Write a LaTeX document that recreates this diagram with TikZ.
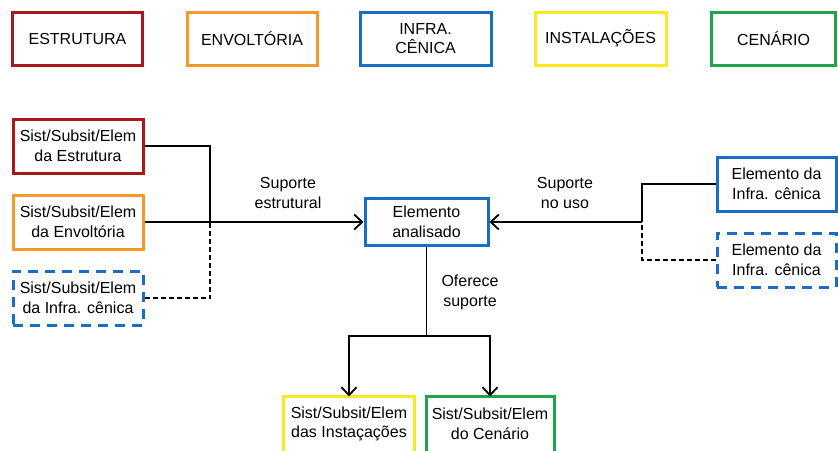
\documentclass[tikz,border=0pt]{standalone}
\usepackage{fontspec}
\setmainfont{Liberation Sans}
\usetikzlibrary{arrows.meta}
\definecolor{cEst}{RGB}{168,22,30}
\definecolor{cEnv}{RGB}{243,154,43}
\definecolor{cInf}{RGB}{24,110,196}
\definecolor{cIns}{RGB}{248,234,30}
\definecolor{cCen}{RGB}{30,164,74}
\begin{document}
\begin{tikzpicture}[x=1pt,y=-1pt,
  box/.style={draw, line width=3pt, inner sep=0pt, align=center,
    font=\fontsize{16}{19.5}\selectfont},
  dbox/.style={box, dash pattern=on 10pt off 7pt},
  frame/.style={line width=3pt},
  conn/.style={line width=1.8pt, draw=black},
  arr/.style={conn, -{Straight Barb[length=8pt,width=15pt,line width=1.8pt]}},
  dconn/.style={conn, dash pattern=on 5pt off 3pt},
  lbl/.style={align=center, inner sep=0pt, font=\fontsize{16}{20}\selectfont}]
\useasboundingbox (0,0) rectangle (838,450);

% legend row
\node[box, draw=cEst, minimum width=130pt, minimum height=53pt] (kEst) at (77.5,38.5) {ESTRUTURA};
\node[box, draw=cEnv, minimum width=130pt, minimum height=53pt] (kEnv) at (252,38.5) {ENVOLTÓRIA};
\node[box, draw=cInf, minimum width=131pt, minimum height=53pt] (kInf) at (425.5,38.5) {INFRA.\\CÊNICA};
\node[box, draw=cIns, minimum width=131pt, minimum height=53pt] (kIns) at (600.5,38.5) {INSTALAÇÕES};
\node[box, draw=cCen, minimum width=124pt, minimum height=53pt] (kCen) at (773.5,38.5) {CENÁRIO};

% left column
\node[box, draw=cEst, minimum width=130pt, minimum height=54pt] (L1) at (78,146) {Sist/Subsit/Elem\\da Estrutura};
\node[box, draw=cEnv, minimum width=130pt, minimum height=54pt] (L2) at (78,222) {Sist/Subsit/Elem\\da Envoltória};
\node[dbox, draw=cInf, minimum width=130pt, minimum height=54pt] (L3) at (78,298) {Sist/Subsit/Elem\\da Infra. cênica};

% centre
\node[box, draw=cInf, minimum width=123pt, minimum height=47pt] (ea) at (426.5,222) {Elemento\\analisado};

% right column
\node[box, draw=cInf, minimum width=119pt, minimum height=54pt] (R1) at (776.5,184) {Elemento da\\Infra. cênica};
\node[dbox, draw=cInf, minimum width=119pt, minimum height=54pt] (R2) at (776.5,260) {Elemento da\\Infra. cênica};

% bottom row: frames run on past the lower edge of the page
\node[box, draw=none, minimum width=128pt, minimum height=52pt] (B1) at (349,424) {Sist/Subsit/Elem\\das Instaçações};
\node[box, draw=none, minimum width=125pt, minimum height=52pt] (B2) at (490,424) {Sist/Subsit/Elem\\do Cenário};
\draw[frame, draw=cIns] ([yshift=-16pt]B1.south west) -- (B1.north west) -- (B1.north east) -- ([yshift=-16pt]B1.south east);
\draw[frame, draw=cCen] ([yshift=-16pt]B2.south west) -- (B2.north west) -- (B2.north east) -- ([yshift=-16pt]B2.south east);

% labels
\node[lbl] (tEst) at (288,193) {Suporte\\estrutural};
\node[lbl] (tUso) at (565,193) {Suporte\\no uso};
\node[lbl] (tOf) at (470,292) {Oferece\\suporte};

% junctions
\coordinate (jl) at (210,222);
\coordinate (jr) at (642,222);
\coordinate (jb) at (426.5,336);

% connectors
\draw[conn] (L1.east) -| (jl);
\draw[dconn] (L3.east) -| (jl);
\draw[arr] (L2.east) -- (ea.west);
\draw[conn] (R1.west) -| (jr);
\draw[dconn] (R2.west) -| (jr);
\draw[arr] (jr) -- (ea.east);
\draw[conn] (ea.south) -- (jb);
\draw[arr] (jb) -| (B1.north);
\draw[arr] (jb) -| (B2.north);
\end{tikzpicture}
\end{document}
